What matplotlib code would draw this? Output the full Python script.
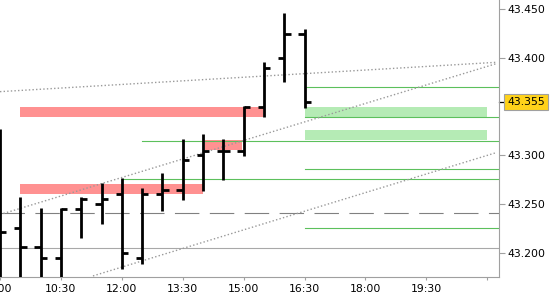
import matplotlib
matplotlib.use("Agg")
import matplotlib.pyplot as plt
import matplotlib.transforms as mtransforms

# 30 minute bars
times = ["09:00", "09:30", "10:00", "10:30", "11:00", "11:30", "12:00", "12:30",
         "13:00", "13:30", "14:00", "14:30", "15:00", "15:30", "16:00", "16:30"]
opens = [43.300, 43.226, 43.206, 43.195, 43.245, 43.250, 43.260, 43.195,
         43.260, 43.265, 43.300, 43.305, 43.305, 43.350, 43.400, 43.424]
highs = [43.327, 43.257, 43.246, 43.246, 43.257, 43.272, 43.277, 43.267,
         43.282, 43.317, 43.322, 43.317, 43.351, 43.396, 43.446, 43.430]
lows = [43.160, 43.165, 43.165, 43.165, 43.215, 43.230, 43.184, 43.189,
        43.243, 43.254, 43.264, 43.275, 43.299, 43.339, 43.375, 43.349]
closes = [43.221, 43.206, 43.195, 43.245, 43.255, 43.255, 43.200, 43.260,
          43.265, 43.295, 43.305, 43.305, 43.350, 43.390, 43.424, 43.355]

# zones: start, end, low, high
red_zones = [(9.5, 15.47, 43.3393, 43.3496),
             (9.5, 14.0, 43.2608, 43.2707),
             (14.05, 14.95, 43.3058, 43.3158)]
green_zones = [(16.5, 21.0, 43.3390, 43.3494),
               (16.5, 21.0, 43.3156, 43.3260)]

# green levels: start time, price
green_levels = [(16.5, 43.3698), (16.5, 43.3390), (12.5, 43.3144),
                (16.5, 43.2857), (12.0, 43.2755), (16.5, 43.2253)]
gray_level = 43.2048
dashed_level = 43.2407

# trend lines: (t0, p0, t1, p1)
trends = [(9.0, 43.3653, 21.24, 43.3954),
          (9.0, 43.2394, 21.24, 43.3942),
          (11.29, 43.1765, 21.22, 43.3028)]

last_price = 43.355
xtick_pos = [9.0, 10.5, 12.0, 13.5, 15.0, 16.5, 18.0, 19.5, 21.0]
xtick_lab = ["9:00", "10:30", "12:00", "13:30", "15:00", "16:30", "18:00", "19:30", ""]
ytick_pos = [43.200, 43.250, 43.300, 43.400, 43.450]

def to_hours(s):
    h, m = s.split(":")
    return int(h) + int(m) / 60

x = [to_hours(t) for t in times]

fig = plt.figure(figsize=(5.5, 3.0), dpi=100)
ax = fig.add_axes([0.0, 23 / 300, 499 / 550, 277 / 300])
ax.set_xlim(9.0, 21.29)
ax.set_ylim(43.1754, 43.4592)

for t0, t1, lo, hi in red_zones:
    ax.fill_between([t0, t1], lo, hi, color="#FF9191", lw=0, zorder=1)
for t0, t1, lo, hi in green_zones:
    ax.fill_between([t0, t1], lo, hi, color="#B5EBB5", lw=0, zorder=1)

ax.axhline(gray_level, color="#A8A8A8", lw=0.8, zorder=2)
ax.axhline(dashed_level, color="#808080", lw=0.8, dashes=(22, 9.4), zorder=2)
for t0, p in green_levels:
    ax.plot([t0, 21.29], [p, p], color="#5CC05C", lw=0.8, zorder=2)

for t0, p0, t1, p1 in trends:
    ax.plot([t0, t1], [p0, p1], color="#999999", lw=1.0, ls=(0, (1, 1.6)), zorder=3)

tick = 0.155
ax.vlines(x, lows, highs, color="black", lw=2.0, zorder=4)
ax.hlines(opens, [v - tick for v in x], x, color="black", lw=2.0, zorder=4)
ax.hlines(closes, x, [v + tick for v in x], color="black", lw=2.0, zorder=4)

for s in ["top", "left"]:
    ax.spines[s].set_visible(False)
for s in ["right", "bottom"]:
    ax.spines[s].set_color("#A0A0A0")

ax.yaxis.tick_right()
ax.set_yticks(ytick_pos)
ax.set_yticklabels([f"{v:.3f}" for v in ytick_pos])
ax.set_xticks(xtick_pos)
ax.set_xticklabels(xtick_lab)
ax.tick_params(axis="y", length=4.3, width=0.8, color="#A0A0A0", pad=2, labelsize=7.8)
ax.tick_params(axis="x", length=2.5, width=0.8, color="#A0A0A0", pad=2.5, labelsize=7.8)

trans = mtransforms.blended_transform_factory(ax.transAxes, ax.transData)
ax.plot([1.0, 1.013], [last_price, last_price], color="black", lw=0.9,
        transform=trans, clip_on=False)
ax.text(1.0545, last_price, f"{last_price:.3f}", transform=trans, ha="center", va="center",
        fontsize=7.8, color="black",
        bbox=dict(boxstyle="square,pad=0.28", fc="#FFD21A", ec="#A0A0A0", lw=0.8))

fig.savefig("out.png", dpi=100)
